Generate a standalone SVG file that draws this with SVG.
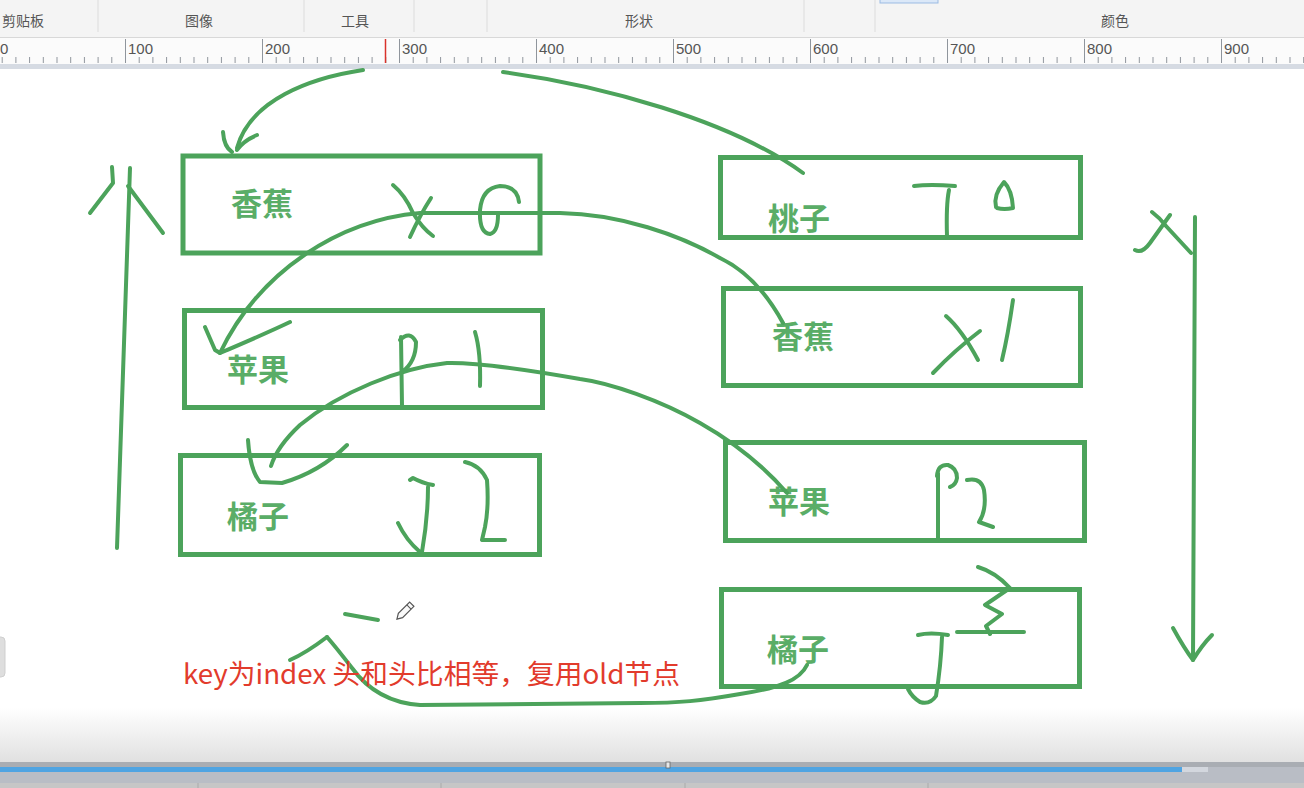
<svg xmlns="http://www.w3.org/2000/svg" width="1304" height="788" viewBox="0 0 1304 788">
<defs>
<style>
.box{fill:none;stroke:#4ca35b;stroke-width:5}
.lbl{font-family:"Noto Sans CJK SC","Noto Sans",sans-serif;font-weight:bold;font-size:31px;fill:#5aad67}
.ink{fill:none;stroke:#4ca35b;stroke-width:4;stroke-linecap:round;stroke-linejoin:round}
.tb{font-family:"Noto Sans CJK SC","Noto Sans",sans-serif;font-size:14px;fill:#555}
.rl{font-family:"Liberation Sans","Noto Sans",sans-serif;font-size:15px;fill:#555}
.sep{stroke:#dcdcdc;stroke-width:1}
</style>
<pattern id="minor" x="-12" y="0" width="13.7" height="788" patternUnits="userSpaceOnUse">
<line x1="0.5" y1="57" x2="0.5" y2="63" stroke="#8f959c" stroke-width="1"/>
</pattern>
<pattern id="major" x="-12" y="0" width="137" height="788" patternUnits="userSpaceOnUse">
<line x1="0.5" y1="39" x2="0.5" y2="63" stroke="#8f959c" stroke-width="1"/>
</pattern>
<linearGradient id="bot" x1="0" y1="0" x2="0" y2="1">
<stop offset="0" stop-color="#ffffff"/>
<stop offset="1" stop-color="#e0e0e0"/>
</linearGradient>
</defs>

<!-- window chrome -->
<rect x="0" y="0" width="1304" height="788" fill="#ffffff"/>
<rect x="0" y="0" width="1304" height="37" fill="#f4f4f4"/>
<rect x="880" y="-2" width="58" height="5" fill="#dbe8f8" stroke="#9bbbe3" stroke-width="1"/>
<g class="sep">
<line x1="98" y1="0" x2="98" y2="32"/><line x1="304" y1="0" x2="304" y2="32"/>
<line x1="414" y1="0" x2="414" y2="32"/><line x1="487" y1="0" x2="487" y2="32"/>
<line x1="804" y1="0" x2="804" y2="32"/><line x1="875" y1="0" x2="875" y2="32"/>
</g>
<text class="tb" x="2" y="26">剪贴板</text>
<text class="tb" x="185" y="26">图像</text>
<text class="tb" x="341" y="26">工具</text>
<text class="tb" x="625" y="26">形状</text>
<text class="tb" x="1101" y="26">颜色</text>
<rect x="0" y="37" width="1304" height="27" fill="#fbfbfb"/>
<line x1="0" y1="37.5" x2="1304" y2="37.5" stroke="#d8d8d8"/>
<rect x="0" y="0" width="1304" height="788" fill="url(#minor)" style="clip-path:inset(38px 0 724px 0)"/>
<rect x="0" y="0" width="1304" height="788" fill="url(#major)" style="clip-path:inset(38px 0 724px 0)"/>
<line x1="385.5" y1="39" x2="385.5" y2="63" stroke="#d9322b" stroke-width="1.5"/>
<text class="rl" x="0" y="54">0</text>
<text class="rl" x="128" y="54">100</text>
<text class="rl" x="265" y="54">200</text>
<text class="rl" x="402" y="54">300</text>
<text class="rl" x="539" y="54">400</text>
<text class="rl" x="676" y="54">500</text>
<text class="rl" x="813" y="54">600</text>
<text class="rl" x="950" y="54">700</text>
<text class="rl" x="1087" y="54">800</text>
<text class="rl" x="1224" y="54">900</text>
<rect x="0" y="64" width="1304" height="5" fill="#d6dbe3"/>
<rect x="0" y="708" width="1304" height="55" fill="url(#bot)"/>
<rect x="-6" y="637" width="11" height="40" rx="4" fill="#dedede" stroke="#cfcfcf"/>
<rect x="0" y="762" width="1304" height="26" fill="#b9bdc5"/>
<rect x="0" y="762" width="1304" height="5" fill="#a9adb3"/>
<rect x="0" y="767" width="1182" height="5" fill="#4fa4e2"/>
<rect x="1182" y="767" width="26" height="5" fill="#d3d7de"/>
<rect x="666" y="762" width="4" height="6" fill="#e8e8e8" stroke="#666" stroke-width="0.8"/>
<rect x="0" y="783" width="1304" height="5" fill="#c6c6c6"/>
<g stroke="#aaaaaa" stroke-width="1">
<line x1="198" y1="783" x2="198" y2="788"/><line x1="441" y1="783" x2="441" y2="788"/>
<line x1="685" y1="783" x2="685" y2="788"/><line x1="928" y1="783" x2="928" y2="788"/>
</g>

<!-- old list (left) -->
<g id="old-banana"><rect class="box" x="183" y="156" width="357" height="97"/><text class="lbl" x="231" y="215">香蕉</text></g>
<g id="old-apple"><rect class="box" x="184.5" y="310.5" width="358" height="97"/><text class="lbl" x="227" y="381">苹果</text></g>
<g id="old-orange"><rect class="box" x="180.5" y="455.5" width="359" height="99"/><text class="lbl" x="227" y="528">橘子</text></g>

<!-- new list (right) -->
<g id="new-peach"><rect class="box" x="720.5" y="157.5" width="360" height="80"/><text class="lbl" x="768" y="230">桃子</text></g>
<g id="new-banana"><rect class="box" x="723.5" y="288.5" width="357" height="97"/><text class="lbl" x="772" y="348">香蕉</text></g>
<g id="new-apple"><rect class="box" x="725.5" y="442.5" width="359" height="98"/><text class="lbl" x="768" y="513">苹果</text></g>
<g id="new-orange"><rect class="box" x="721.5" y="589.5" width="358" height="97"/><text class="lbl" x="767" y="661">橘子</text></g>

<!-- connectors -->
<g id="connectors">
<path class="ink" d="M130,168 C126,300 120,430 117,548"/>
<path class="ink" d="M112,167 L113,183 L90,213 M128,186 L163,233"/>
<path class="ink" d="M1195,217 L1193,660"/>
<path class="ink" d="M1173,628 Q1184,648 1193,660 Q1202,645 1212,635"/>
<path class="ink" d="M1135,250 Q1142,254 1150,243 L1170,215 M1152,212 Q1160,218 1166,226 L1191,253"/>
<path class="ink" d="M363,70 C310,78 250,100 237,148"/>
<path class="ink" d="M223,132 Q224,147 232,152 M237,150 Q243,141 257,135"/>
<path class="ink" d="M503,72 C600,85 730,120 803,173"/>
<path class="ink" d="M783,323 C765,290 745,270 720,258 C680,235 620,214 560,213 L420,213 C340,220 260,270 220,353"/>
<path class="ink" d="M205,327 L215,350 L220,353 M290,322 Q267,333 220,353"/>
<path class="ink" d="M787,493 C760,462 730,440 700,423 C660,400 610,383 580,379 C540,372 480,362 447,363 C400,368 340,392 300,425 C284,440 275,453 271,466"/>
<path class="ink" d="M248,440 Q250,470 260,482 L282,483 Q320,472 347,445"/>
<path class="ink" d="M807,665 C800,680 780,688 740,694 C700,701 680,703 640,703 L420,705 C390,703 368,690 352,668 C342,655 334,645 327,637"/>
<path class="ink" d="M290,660 Q306,653 327,637"/>
<path class="ink" d="M345,614 L378,620"/>
</g>

<!-- hand-written marks -->
<g id="marks">
<path class="ink" d="M393,185 Q405,195 413,213 Q422,228 433,236 M410,237 Q420,215 431,198"/>
<path class="ink" d="M519,202 Q517,186 500,186 Q482,188 480,210 Q479,233 490,234 Q498,232 498,215"/>
<path class="ink" d="M401,337 L402,406 M400,340 Q410,330 416,342 Q416,362 402,372 M475,332 Q481,352 480,386"/>
<path class="ink" d="M410,480 L413,478 Q422,483 433,485 M428,487 Q428,517 422,552 M398,523 Q406,540 420,552"/>
<path class="ink" d="M465,462 Q480,465 487,480 Q489,507 485,527 L482,540 L505,540"/>
<path class="ink" d="M914,186 Q930,184 955,186 M949,190 Q946,205 947,236"/>
<path class="ink" d="M996,207 Q993,195 1004,182 Q1012,190 1013,208 Q1004,210 997,208"/>
<path class="ink" d="M946,316 Q962,330 978,360 M933,373 Q955,350 980,331 M1013,300 Q1008,335 1002,360"/>
<path class="ink" d="M938,473 L938,540 M937,476 Q938,464 948,465 Q957,468 957,478 Q956,485 950,487"/>
<path class="ink" d="M967,480 Q981,477 984,490 Q987,510 979,522 L993,527"/>
<path class="ink" d="M918,635 Q930,632 948,635 M942,637 Q941,665 936,696 Q930,705 920,702 Q912,697 908,689"/>
<path class="ink" d="M978,567 Q995,572 1010,588 L985,605 L1002,614 L986,626 L990,634 M957,632 L1024,632"/>
</g>

<!-- pencil cursor -->
<g transform="translate(404,612) rotate(45)">
<path d="M-3,-11 L3,-11 L3,5 L0,10 L-3,5 Z" fill="#fafafa" stroke="#555" stroke-width="1.2"/>
<line x1="-3" y1="-7" x2="3" y2="-7" stroke="#555" stroke-width="1"/>
</g>

<text x="183" y="684" font-family="'Noto Sans CJK SC','Noto Sans',sans-serif" font-size="27" fill="#e23b2c" textLength="497" lengthAdjust="spacingAndGlyphs">key为index 头和头比相等，复用old节点</text>
</svg>
